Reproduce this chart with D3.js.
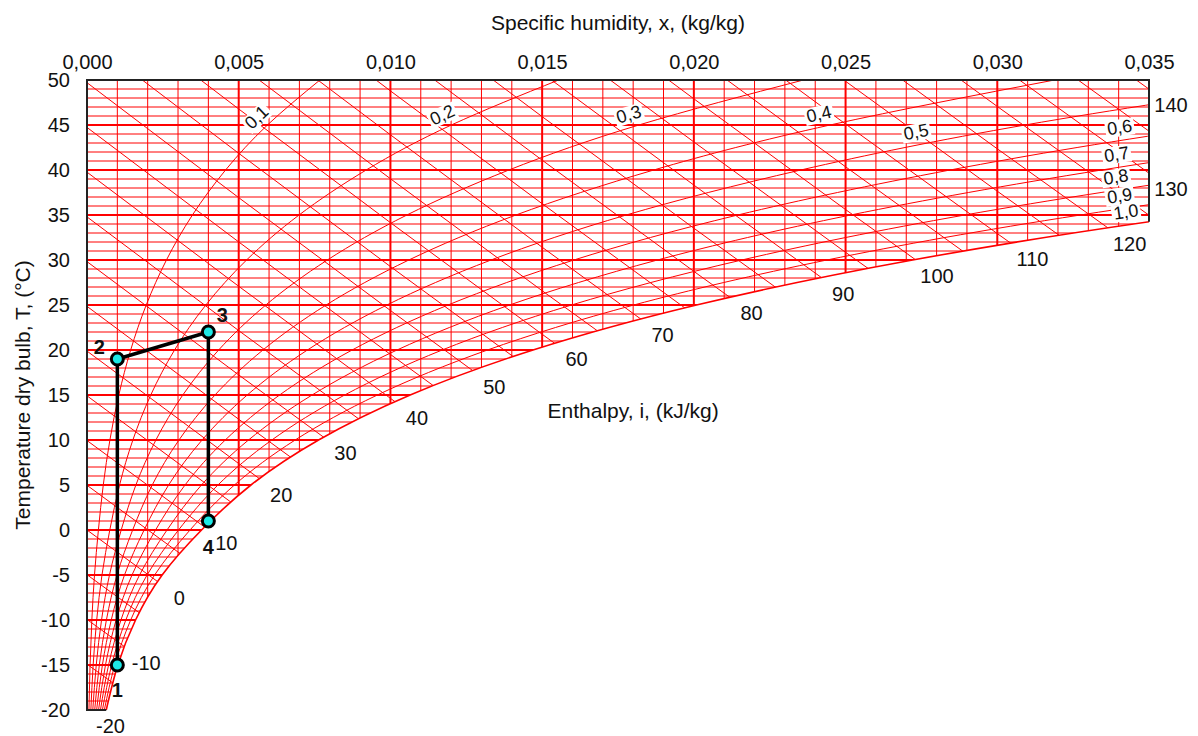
<!DOCTYPE html>
<html>
<head>
<meta charset="utf-8">
<title>Psychrometric chart</title>
<script src="https://d3js.org/d3.v7.min.js"></script>
<style>
  body { margin: 0; background: #fff; }
  svg text { font-family: 'Liberation Sans', Arial, sans-serif; fill: #111; }
</style>
</head>
<body>
<svg id="chart" width="1198" height="736"></svg>
<script>
// saturation vapour pressure (kPa) every 5 degC, over ice below 0
const P = 101.325;
const satTemps = [-20, -15, -10, -5, 0, 5, 10, 15, 20, 25, 30, 35, 40, 45, 50];
const satPressure = [0.1032, 0.1652, 0.2600, 0.4018, 0.6112, 0.8726, 1.2282, 1.7058, 2.3393, 3.1699, 4.2470, 5.6290, 7.3849, 9.5950, 12.352];
const rhLevels = [0.1, 0.2, 0.3, 0.4, 0.5, 0.6, 0.7, 0.8, 0.9, 1.0];
const rhLabelText = ["0,1", "0,2", "0,3", "0,4", "0,5", "0,6", "0,7", "0,8", "0,9", "1,0"];
const enthalpyLabels = [-20, -10, 0, 10, 20, 30, 40, 50, 60, 70, 80, 90, 100, 110, 120, 130, 140];
const xTicks = [0, 0.005, 0.010, 0.015, 0.020, 0.025, 0.030, 0.035];
const tTicks = [50, 45, 40, 35, 30, 25, 20, 15, 10, 5, 0, -5, -10, -15, -20];
const procNames = ["1", "2", "3", "4"];
const procX = [0.001, 0.001, 0.004, 0.004];
const procT = [-15, 19, 22, 1];

// label placement
const rhLabelT = [44.8, 44.8, 44.8, 44.8, 42.8, 43.3, 40.3, 37.8, 35.7, 33.9];
const procLabelOffset = [[0, 25], [-18, -12], [14, -17], [0, 26]];

const svg = d3.select("#chart");
const x = d3.scaleLinear().domain([0, 0.035]).range([87, 1149]);
const y = d3.scaleLinear().domain([-20, 50]).range([710, 80]);

function hum(ps, phi) { return 0.622 * phi * ps / (P - phi * ps); }
function enthalpy(t, xv) { return 1.006 * t + xv * (2501 + 1.86 * t); }
function tOnEnthalpy(i, xv) { return (i - 2501 * xv) / (1.006 + 1.86 * xv); }

function samplePath(node, n) {
  const len = node.getTotalLength();
  const pts = [];
  for (let k = 0; k <= n; k++) {
    const p = node.getPointAtLength(len * k / n);
    pts.push({ px: p.x, py: p.y, xv: x.invert(p.x), t: y.invert(p.y) });
  }
  return pts;
}

const curveLine = d3.line().x(d => x(d[0])).y(d => y(d[1])).curve(d3.curveNatural);
const straight = d3.line().x(d => x(d[0])).y(d => y(d[1]));

const rhData = rhLevels.map(phi => satTemps.map((t, k) => [hum(satPressure[k], phi), t]));
const satD = curveLine(rhData[rhData.length - 1]);
const regionD = "M" + x(0) + "," + y(-20) + "L" + satD.slice(1) + "L" + x(0) + "," + y(50) + "Z";

const defs = svg.append("defs");
defs.append("clipPath").attr("id", "plotRect")
  .append("rect").attr("x", x(0)).attr("y", y(50))
  .attr("width", x(0.035) - x(0)).attr("height", y(-20) - y(50));
defs.append("clipPath").attr("id", "satClip")
  .append("path").attr("d", regionD);

const outer = svg.append("g").attr("clip-path", "url(#plotRect)");
const grid = outer.append("g").attr("clip-path", "url(#satClip)")
  .attr("stroke", "#ff0000").attr("fill", "none");

// horizontal lines every 1 degC
grid.selectAll("line.h").data(d3.range(-20, 51, 1)).join("line")
  .attr("class", "h")
  .attr("x1", x(0)).attr("x2", x(0.035))
  .attr("y1", d => y(d)).attr("y2", d => y(d))
  .attr("stroke-width", d => d % 5 === 0 ? 2 : 1);

// vertical lines every 0.001
grid.selectAll("line.v").data(d3.range(0, 36, 1)).join("line")
  .attr("class", "v")
  .attr("x1", d => x(d / 1000)).attr("x2", d => x(d / 1000))
  .attr("y1", y(50)).attr("y2", y(-20))
  .attr("stroke-width", d => d % 5 === 0 ? 2 : 1);

// isenthalps every 5 kJ/kg
grid.selectAll("path.i").data(d3.range(-20, 145, 5)).join("path")
  .attr("class", "i")
  .attr("d", i => straight(xTicks.map(xv => [xv, tOnEnthalpy(i, xv)])))
  .attr("stroke-width", 1);

// relative humidity curves
grid.selectAll("path.rh").data(rhData.slice(0, rhData.length - 1)).join("path")
  .attr("class", "rh")
  .attr("d", curveLine)
  .attr("stroke-width", 1);

// saturation curve
const satPath = outer.append("path")
  .attr("d", satD).attr("fill", "none")
  .attr("stroke", "#ff0000").attr("stroke-width", 1.6);

const satSamples = samplePath(satPath.node(), 3000);
const xEdge = x(0.035);

// frame
let edgeY = y(-20);
for (let k = 1; k < satSamples.length; k++) {
  if (satSamples[k].px >= xEdge) { edgeY = satSamples[k].py; break; }
}
const xSatLow = rhData[rhData.length - 1][0][0];
svg.append("path")
  .attr("d", "M" + x(xSatLow) + "," + y(-20) + "L" + x(0) + "," + y(-20) +
    "L" + x(0) + "," + y(50) + "L" + xEdge + "," + y(50) + "L" + xEdge + "," + edgeY)
  .attr("fill", "none").attr("stroke", "#222").attr("stroke-width", 2);

// relative humidity labels
const rhPaths = grid.selectAll("path.rh").nodes().concat([satPath.node()]);
rhLevels.forEach((phi, j) => {
  const s = samplePath(rhPaths[j], 1500);
  const ty = y(rhLabelT[j]);
  let best = 1;
  s.forEach((p, k) => { if (k > 0 && k < s.length - 1 && Math.abs(p.py - ty) < Math.abs(s[best].py - ty)) best = k; });
  const a = s[best - 1], b = s[best + 1];
  const ang = Math.atan2(b.py - a.py, b.px - a.px) * 180 / Math.PI;
  const g = svg.append("g")
    .attr("transform", "translate(" + s[best].px + "," + s[best].py + ") rotate(" + ang + ")");
  const bg = g.append("rect").attr("fill", "#fff");
  const txt = g.append("text")
    .attr("text-anchor", "middle").attr("dy", -7)
    .attr("font-size", 18).text(rhLabelText[j]);
  const bb = txt.node().getBBox();
  bg.attr("x", bb.x - 2).attr("y", bb.y + 2).attr("width", bb.width + 4).attr("height", bb.height - 3);
});

// enthalpy labels
function enthalpyAnchor(i) {
  const hBottom = enthalpy(-20, satSamples[0].xv);
  if (i < hBottom) {
    const xv = (i + 1.006 * 20) / (2501 - 1.86 * 20);
    return [x(xv), y(-20)];
  }
  for (let k = 1; k < satSamples.length; k++) {
    const a = satSamples[k - 1], b = satSamples[k];
    if (b.px > xEdge) break;
    const ha = enthalpy(a.t, a.xv), hb = enthalpy(b.t, b.xv);
    if (ha <= i && hb >= i) {
      const f = (i - ha) / (hb - ha);
      return [a.px + f * (b.px - a.px), a.py + f * (b.py - a.py)];
    }
  }
  return [xEdge, y(tOnEnthalpy(i, 0.035))];
}
svg.append("g").selectAll("text").data(enthalpyLabels).join("text")
  .attr("x", d => enthalpyAnchor(d)[0] + 22)
  .attr("y", d => enthalpyAnchor(d)[1] + 16)
  .attr("text-anchor", "middle").attr("dominant-baseline", "central")
  .attr("font-size", 20).text(d => d);

// axes
const fmt = d => d3.format(".3f")(d).replace(".", ",");
const topAxis = svg.append("g").attr("transform", "translate(0," + y(50) + ")")
  .call(d3.axisTop(x).tickValues(xTicks).tickFormat(fmt).tickSize(0).tickPadding(11));
const leftAxis = svg.append("g").attr("transform", "translate(" + x(0) + ",0)")
  .call(d3.axisLeft(y).tickValues(tTicks).tickFormat(d => String(d)).tickSize(0).tickPadding(17));
[topAxis, leftAxis].forEach(a => {
  a.select(".domain").remove();
  a.selectAll("text").attr("font-size", 20).attr("font-family", "'Liberation Sans', Arial, sans-serif").attr("fill", "#111");
});

svg.append("text").attr("x", (x(0) + x(0.035)) / 2).attr("y", 22)
  .attr("text-anchor", "middle").attr("dominant-baseline", "central")
  .attr("font-size", 21).text("Specific humidity, x, (kg/kg)");
svg.append("text")
  .attr("transform", "translate(22," + (y(50) + y(-20)) / 2 + ") rotate(-90)")
  .attr("text-anchor", "middle").attr("dominant-baseline", "central")
  .attr("font-size", 21).text("Temperature dry bulb, T, (°C)");
svg.append("text").attr("x", x(0.018)).attr("y", y(13.3))
  .attr("text-anchor", "middle").attr("dominant-baseline", "central")
  .attr("font-size", 21).text("Enthalpy, i, (kJ/kg)");

// process 1-2-3-4
const proc = procNames.map((n, k) => ({ n, xv: procX[k], t: procT[k], off: procLabelOffset[k] }));
svg.append("path")
  .attr("d", straight(proc.map(p => [p.xv, p.t])))
  .attr("fill", "none").attr("stroke", "#000").attr("stroke-width", 3.5)
  .attr("stroke-linejoin", "round");
svg.append("g").selectAll("circle").data(proc).join("circle")
  .attr("cx", p => x(p.xv)).attr("cy", p => y(p.t)).attr("r", 6)
  .attr("fill", "#1de9e6").attr("stroke", "#000").attr("stroke-width", 3);
svg.append("g").selectAll("text").data(proc).join("text")
  .attr("x", p => x(p.xv) + p.off[0]).attr("y", p => y(p.t) + p.off[1])
  .attr("text-anchor", "middle").attr("dominant-baseline", "central")
  .attr("font-size", 20).attr("font-weight", "bold").text(p => p.n);
</script>
</body>
</html>
